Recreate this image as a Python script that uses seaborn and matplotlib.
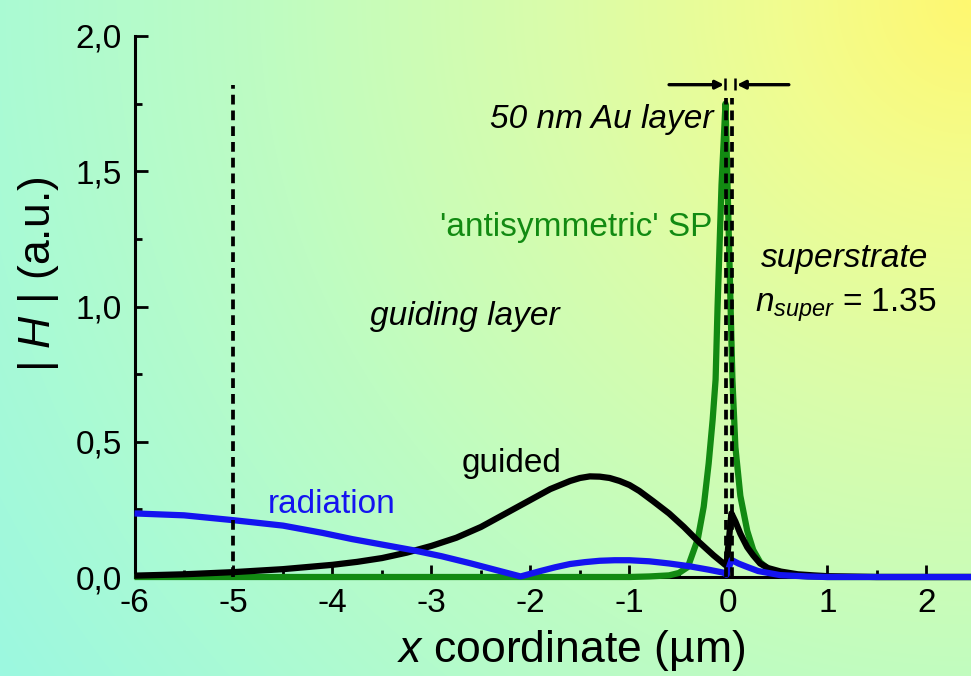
import numpy as np
import pandas as pd
import matplotlib
matplotlib.use("Agg")
import matplotlib.pyplot as plt
from matplotlib.colors import LinearSegmentedColormap
from matplotlib.ticker import MultipleLocator
import seaborn as sns

# ---- field profiles |H| across the waveguide (x in µm) ----
guided_x = [-6, -5.5, -5, -4.5, -4, -3.75, -3.5, -3.25, -3.0, -2.75, -2.5, -2.25,
            -2.0, -1.8, -1.6, -1.5, -1.4, -1.3, -1.2, -1.1, -1.0, -0.9, -0.76, -0.6,
            -0.45, -0.3, -0.15, -0.03, -0.02, 0.03, 0.07, 0.12, 0.19, 0.25, 0.32,
            0.4, 0.53, 0.7, 0.86, 1.0, 1.5, 2.5]
guided_y = [0.005, 0.01, 0.018, 0.029, 0.045, 0.056, 0.07, 0.09, 0.115, 0.145, 0.185,
            0.235, 0.285, 0.325, 0.355, 0.366, 0.372, 0.371, 0.366, 0.355, 0.34, 0.318,
            0.28, 0.235, 0.185, 0.13, 0.08, 0.044, 0.044, 0.235, 0.205, 0.16, 0.11,
            0.08, 0.05, 0.033, 0.02, 0.01, 0.006, 0.003, 0.0, 0.0]

radiation_x = [-6, -5.5, -5, -4.5, -4.1, -3.8, -3.5, -3.2, -2.9, -2.6, -2.35, -2.1,
               -1.9, -1.75, -1.6, -1.45, -1.3, -1.15, -1.0, -0.8, -0.6, -0.4, -0.2,
               -0.05, -0.02, 0.03, 0.1, 0.19, 0.3, 0.52, 0.8, 1.0, 2.5]
radiation_y = [0.235, 0.228, 0.21, 0.19, 0.163, 0.14, 0.12, 0.1, 0.077, 0.05, 0.026,
               0.002, 0.022, 0.036, 0.048, 0.055, 0.06, 0.062, 0.062, 0.058, 0.05,
               0.04, 0.027, 0.016, 0.008, 0.063, 0.05, 0.037, 0.022, 0.007, 0.002,
               0.0, 0.0]

sp_x = [-6, -1.0, -0.8, -0.6, -0.5, -0.41, -0.31, -0.25, -0.2, -0.16, -0.13, -0.11,
        -0.07, -0.03, 0.04, 0.07, 0.12, 0.19, 0.25, 0.32, 0.39, 0.5, 0.6, 0.8, 1.0, 2.5]
sp_y = [0.0, 0.0, 0.002, 0.006, 0.015, 0.037, 0.14, 0.26, 0.42, 0.58, 0.73, 1.0,
        1.45, 1.75, 0.73, 0.48, 0.3, 0.17, 0.1, 0.055, 0.033, 0.015, 0.007, 0.002, 0.0, 0.0]

xticks = [-6, -5, -4, -3, -2, -1, 0, 1, 2]
xtick_labels = ["-6", "-5", "-4", "-3", "-2", "-1", "0", "1", "2"]
yticks = [0.0, 0.5, 1.0, 1.5, 2.0]
ytick_labels = ["0,0", "0,5", "1,0", "1,5", "2,0"]

# layer boundaries (µm)
cladding_edge = -5.0
au_left, au_right = -0.02, 0.035

GREEN = "#128a12"
BLUE = "#1414f0"

sns.set_style("ticks")
plt.rcParams["font.family"] = ["Liberation Sans", "DejaVu Sans"]
plt.rcParams["mathtext.fontset"] = "custom"
plt.rcParams["mathtext.rm"] = "Liberation Sans"
plt.rcParams["mathtext.it"] = "Liberation Sans:italic"

W, H = 971, 676
fig = plt.figure(figsize=(W / 100, H / 100), dpi=100)

# radial background wash, yellow in the upper right corner
bg = fig.add_axes([0, 0, 1, 1], zorder=-10)
yy, xx = np.mgrid[0:H, 0:W]
dist = np.hypot(W - xx, yy) / np.hypot(W, H)
wash = LinearSegmentedColormap.from_list(
    "wash",
    [(0.0, "#fff870"), (0.15, "#f2fc8e"), (0.35, "#dafcaa"),
     (0.6, "#befcc2"), (0.85, "#a8fad6"), (1.0, "#9cf8e0")])
bg.imshow(wash(dist)[..., :3], aspect="auto", interpolation="bilinear")
bg.axis("off")

ax = fig.add_axes([134.5 / W, 1 - 577 / H, (W - 134.5) / W, 541 / H])
ax.set_facecolor("none")

df = pd.concat([
    pd.DataFrame({"x": sp_x, "H": sp_y, "mode": "sp"}),
    pd.DataFrame({"x": guided_x, "H": guided_y, "mode": "guided"}),
    pd.DataFrame({"x": radiation_x, "H": radiation_y, "mode": "radiation"}),
], ignore_index=True)

for mode, color, z in [("sp", GREEN, 3), ("guided", "black", 4), ("radiation", BLUE, 5)]:
    sub = df[df["mode"] == mode]
    sns.lineplot(data=sub, x="x", y="H", ax=ax, color=color, lw=4.5,
                 estimator=None, sort=False, zorder=z, clip_on=False,
                 solid_joinstyle="round", solid_capstyle="butt")

# layer boundaries
dash = (0, (2.6, 1.6))
ax.vlines([cladding_edge], 0, 1.82, colors="black", lw=2.7, linestyles=dash, zorder=6)
ax.vlines([au_left, au_right], 0, 1.77, colors="black", lw=2.7, linestyles=dash, zorder=6)

# thickness marker of the Au film
arrow = dict(arrowstyle="-|>", color="black", lw=2.4, mutation_scale=12,
             shrinkA=0, shrinkB=0)
ax.annotate("", xy=(-0.045, 1.82), xytext=(-0.6, 1.82), arrowprops=arrow)
ax.annotate("", xy=(0.085, 1.82), xytext=(0.61, 1.82), arrowprops=arrow)
ax.vlines([-0.03, 0.065], 1.80, 1.845, colors="black", lw=1.8, zorder=6)

ax.set_xlim(-6, 2.45)
ax.set_ylim(0, 2.0)
ax.set_xticks(xticks, labels=xtick_labels)
ax.set_yticks(yticks, labels=ytick_labels)
ax.xaxis.set_minor_locator(MultipleLocator(0.5))
ax.yaxis.set_minor_locator(MultipleLocator(0.25))
ax.tick_params(which="both", direction="in", width=2, color="black",
               labelsize=24, labelcolor="black")
ax.tick_params(which="major", length=9)
ax.tick_params(which="minor", length=5)
ax.tick_params(axis="x", pad=8)
ax.tick_params(axis="y", pad=9)
for side in ("top", "right"):
    ax.spines[side].set_visible(False)
for side in ("left", "bottom"):
    ax.spines[side].set_linewidth(2.2)
    ax.spines[side].set_color("black")

ax.set_xlabel(r"$\mathit{x}$ coordinate (µm)", fontsize=32, color="black")
ax.set_ylabel(r"| $\mathit{H}$ | (a.u.)", fontsize=32, color="black")
ax.xaxis.set_label_coords(0.522, -0.095)
ax.yaxis.set_label_coords(-0.088, 0.56)

txt = dict(fontsize=24, va="baseline", color="black")
ax.text(-0.15, 1.66, "50 nm Au layer", ha="right", style="italic", **txt)
ax.text(-0.16, 1.26, "'antisymmetric' SP", ha="right", fontsize=24,
        va="baseline", color=GREEN)
ax.text(0.33, 1.146, "superstrate", ha="left", style="italic", **txt)
ax.text(0.27, 0.98, r"$\mathit{n}_{\mathit{super}}$ = 1.35", ha="left", **txt)
ax.text(-3.62, 0.93, "guiding layer", ha="left", style="italic", **txt)
ax.text(-2.19, 0.39, "guided", ha="center", **txt)
ax.text(-4.01, 0.237, "radiation", ha="center", fontsize=24, va="baseline", color=BLUE)

fig.savefig("out.png", dpi=100)
